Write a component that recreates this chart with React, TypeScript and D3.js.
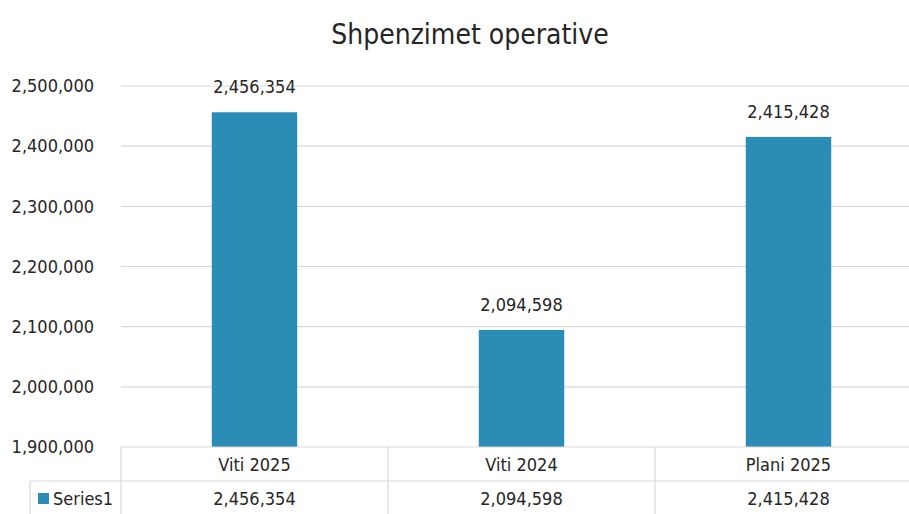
import React from "react";
import * as d3 from "d3";

const categories = ["Viti 2025", "Viti 2024", "Plani 2025"];
const values = [2456354, 2094598, 2415428];
const seriesName = "Series1";
const yTicks = [1900000, 2000000, 2100000, 2200000, 2300000, 2400000, 2500000];
const title = "Shpenzimet operative";

const W = 909;
const H = 514;
const FONT = "'Liberation Sans Narrow', 'DejaVu Sans Condensed', 'Roboto', sans-serif";
const BAR = "#2b8db6";
const GRID = "#d9d9d9";
const TEXT = "#262626";

export default function App() {
  const left = 121;
  const plotRight = 922;
  const top = 86;
  const bottom = 447;
  const x = d3.scaleBand<string>().domain(categories).range([left, plotRight]).paddingInner(0.68).paddingOuter(0.34);
  const band = d3.scaleBand<string>().domain(categories).range([left, plotRight]);
  const y = d3.scaleLinear().domain([1900000, 2500000]).range([bottom, top]);
  const fmt = d3.format(",");
  const row1 = 481;
  const row2 = 520;
  return (
    <svg width={W} height={H} style={{ position: "absolute", left: 0, top: 0, background: "#fff" }} fontFamily={FONT}>
      <rect x={0} y={0} width={W} height={H} fill="#fff" />
      <text x={470} y={44} textAnchor="middle" fontSize={28} fill={TEXT}>{title}</text>
      {yTicks.map((t) => (
        <g key={t}>
          {t !== 1900000 && <line x1={left} x2={plotRight} y1={y(t)} y2={y(t)} stroke={GRID} strokeWidth={1.2} />}
          <text x={94} y={y(t)} dy="0.35em" textAnchor="end" fontSize={18} fill={TEXT}>{fmt(t)}</text>
        </g>
      ))}
      {categories.map((c, i) => (
        <g key={c}>
          <rect x={x(c)} y={y(values[i])} width={x.bandwidth()} height={bottom - y(values[i])} fill={BAR} />
          <text x={(x(c) as number) + x.bandwidth() / 2} y={y(values[i]) - 19} textAnchor="middle" fontSize={18} fill={TEXT}>{fmt(values[i])}</text>
        </g>
      ))}
      {/* data table */}
      <line x1={left} x2={plotRight} y1={bottom} y2={bottom} stroke={GRID} strokeWidth={1.2} />
      <line x1={30} x2={plotRight} y1={row1} y2={row1} stroke={GRID} strokeWidth={1.2} />
      <line x1={30} x2={30} y1={row1} y2={row2} stroke={GRID} strokeWidth={1.2} />
      {[...categories.map((c) => band(c) as number), plotRight].map((xv, i) => (
        <line key={i} x1={xv} x2={xv} y1={bottom} y2={row2} stroke={GRID} strokeWidth={1.2} />
      ))}
      {categories.map((c, i) => (
        <g key={c + "t"}>
          <text x={(band(c) as number) + band.bandwidth() / 2} y={465} dy="0.35em" textAnchor="middle" fontSize={18} fill={TEXT}>{c}</text>
          <text x={(band(c) as number) + band.bandwidth() / 2} y={499} dy="0.35em" textAnchor="middle" fontSize={18} fill={TEXT}>{fmt(values[i])}</text>
        </g>
      ))}
      <rect x={38} y={493} width={11} height={11} fill={BAR} />
      <text x={53} y={499} dy="0.35em" fontSize={18} fill={TEXT}>{seriesName}</text>
    </svg>
  );
}
